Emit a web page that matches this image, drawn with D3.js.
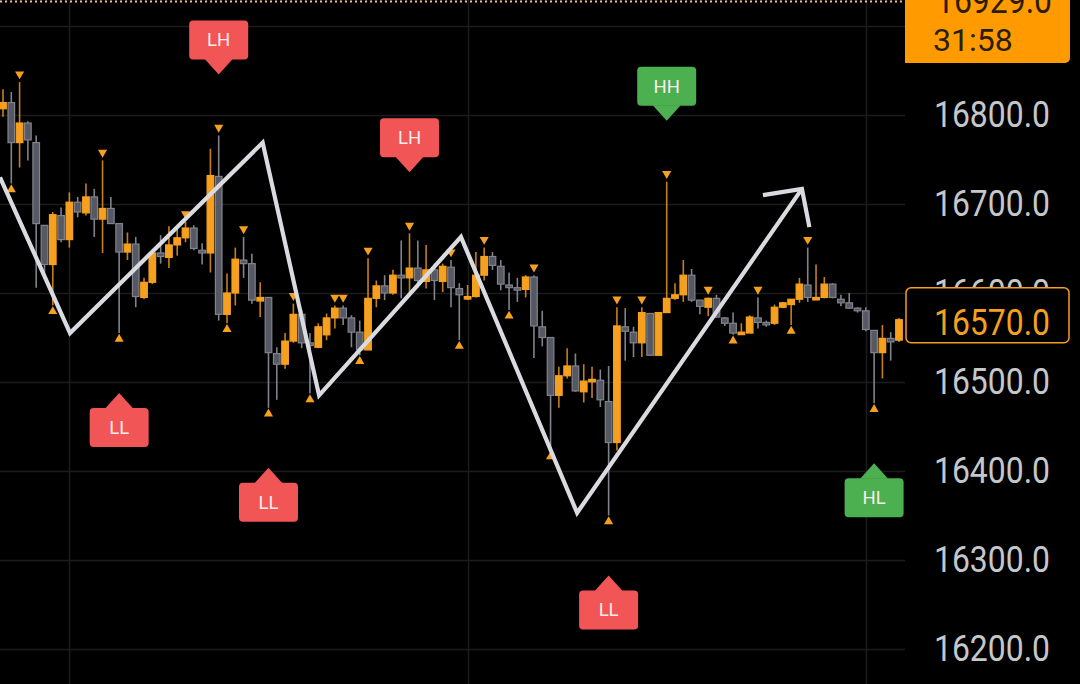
<!DOCTYPE html>
<html><head><meta charset="utf-8">
<script src="https://cdn.jsdelivr.net/npm/d3@7"></script>
<style>html,body{margin:0;padding:0;background:#000;overflow:hidden}</style>
</head><body><svg id="c" width="1080" height="684"></svg>
<script>
const open=[16807,16814,16769,16791,16769,16676,16632,16687,16660,16702,16690,16708,16683,16695,16678,16646,16655,16595,16612,16645,16640,16654,16662,16673,16648,16645,16731,16576,16600,16637,16633,16591,16595,16532,16520,16546,16576,16544,16539,16553,16572,16583,16572,16556,16536,16594,16608,16600,16620,16617,16628,16613,16626,16613,16629,16605,16594,16596,16620,16641,16630,16609,16606,16604,16618,16562,16550,16485,16507,16518,16489,16501,16502,16478,16432,16562,16556,16544,16577,16530,16578,16594,16598,16620,16592,16584,16594,16572,16566,16555,16555,16572,16567,16566,16584,16587,16593,16609,16594,16595,16610,16593,16589,16583,16580,16558,16533,16549,16547];
const high=[16829,16826,16837,16793,16777,16676,16691,16696,16713,16708,16723,16717,16749,16708,16678,16668,16663,16617,16648,16665,16675,16673,16680,16676,16656,16762,16777,16622,16651,16663,16644,16612,16595,16539,16555,16588,16581,16555,16566,16577,16586,16586,16575,16569,16639,16614,16620,16626,16659,16667,16659,16654,16633,16633,16637,16611,16609,16646,16651,16646,16637,16623,16617,16620,16620,16580,16550,16517,16538,16532,16520,16517,16514,16518,16584,16583,16562,16584,16577,16578,16725,16611,16637,16627,16592,16595,16598,16573,16578,16566,16575,16595,16569,16587,16590,16593,16617,16651,16632,16618,16611,16598,16600,16584,16584,16558,16564,16556,16572];
const low=[16798,16723,16741,16749,16606,16617,16586,16657,16651,16685,16687,16663,16645,16678,16555,16637,16584,16593,16610,16633,16628,16642,16657,16648,16632,16623,16569,16566,16586,16617,16588,16573,16471,16480,16515,16544,16538,16487,16538,16547,16560,16564,16539,16530,16536,16584,16592,16598,16594,16601,16606,16605,16592,16601,16584,16547,16592,16595,16614,16626,16603,16581,16590,16595,16527,16540,16423,16471,16504,16489,16477,16482,16472,16350,16423,16524,16528,16528,16530,16530,16578,16592,16590,16590,16576,16574,16572,16563,16553,16554,16555,16560,16562,16564,16583,16564,16589,16590,16593,16594,16594,16585,16582,16578,16557,16476,16504,16524,16545];
const close=[16814,16769,16791,16772,16678,16632,16688,16660,16702,16691,16708,16683,16695,16678,16646,16655,16596,16612,16645,16641,16654,16662,16673,16650,16645,16732,16576,16600,16638,16633,16592,16595,16533,16520,16546,16576,16544,16541,16562,16572,16583,16572,16556,16536,16594,16608,16600,16620,16617,16628,16614,16626,16614,16630,16606,16598,16596,16620,16641,16631,16610,16606,16604,16618,16563,16550,16485,16507,16518,16490,16501,16503,16480,16432,16563,16557,16544,16578,16530,16578,16594,16598,16620,16592,16585,16594,16573,16566,16555,16556,16573,16567,16565,16584,16589,16593,16610,16595,16595,16610,16595,16589,16583,16580,16559,16533,16549,16545,16570];

const pivotHighIdx=[2,12,22,26,29,35,40,41,44,49,54,58,64,74,77,80,85,91,97];
const pivotLowIdx=[1,6,14,27,32,37,43,55,61,66,73,88,95,105];

const labelIdx=[26,49,80,14,32,73,105];
const labelText=["LH","LH","HH","LL","LL","LL","HL"];
const labelSide=["high","high","high","low","low","low","low"];

const zigIdx=[-0.36,8.08,31.3,38.1,55.2,69.2,96.3];
const zigPrice=[16730,16555,16769,16485,16663,16353,16717];
const arrowIdx=[91.6,96.3,97.2];
const arrowPrice=[16710,16717,16674];

const tickValues=[16200,16300,16400,16500,16600,16700,16800];
const gridValues=[16200,16300,16400,16500,16600,16700,16800,16900];
const vGridIdx=[8,56,104];
const lastPrice=16570, markPrice=16929, countdown="31:58";

const W=1080,H=684,plotR=905;
const ORANGE="#f6a020", GRAYF="#565963", GRAYS="#80838c", RED="#f25555", GREEN="#4caf50";
const svg=d3.select("#c");
svg.append("rect").attr("width",W).attr("height",H).attr("fill","#000");

const x=d3.scaleLinear().domain([0,108]).range([3,899]);
const y=d3.scaleLinear().domain([16200,16900]).range([649,26]);

svg.append("defs").append("clipPath").attr("id","plot").append("rect").attr("x",0).attr("y",0).attr("width",plotR).attr("height",H);
const g=svg.append("g").attr("clip-path","url(#plot)");

// grid
g.selectAll("line.hg").data(gridValues).join("line").attr("x1",0).attr("x2",plotR)
 .attr("y1",d=>Math.round(y(d))+0.5).attr("y2",d=>Math.round(y(d))+0.5).attr("stroke","#1c1c1e").attr("stroke-width",1.5);
g.selectAll("line.vg").data(vGridIdx).join("line").attr("y1",0).attr("y2",H)
 .attr("x1",d=>Math.round(x(d))+0.5).attr("x2",d=>Math.round(x(d))+0.5).attr("stroke","#1c1c1e").attr("stroke-width",1.5);

const data=open.map((o,i)=>({i,o,h:high[i],l:low[i],c:close[i],up:close[i]>=o}));
const bw=6.6;
// wicks
g.selectAll("line.wick").data(data).join("line")
 .attr("x1",d=>x(d.i)).attr("x2",d=>x(d.i)).attr("y1",d=>y(d.h)).attr("y2",d=>y(d.l))
 .attr("stroke",d=>d.up?ORANGE:GRAYS).attr("stroke-opacity",d=>d.up?0.8:1).attr("stroke-width",1.6);
// bodies
g.selectAll("rect.body").data(data).join("rect")
 .attr("x",d=>x(d.i)-bw/2).attr("width",bw)
 .attr("y",d=>y(Math.max(d.o,d.c))).attr("height",d=>Math.max(2.5,Math.abs(y(d.o)-y(d.c))))
 .attr("fill",d=>d.up?ORANGE:GRAYF).attr("stroke",d=>d.up?ORANGE:GRAYS).attr("stroke-width",1.2);

// pivot markers
const tri=d3.symbol().type(d3.symbolTriangle).size(36);
g.selectAll("path.ph").data(pivotHighIdx).join("path").attr("d",tri)
 .attr("transform",i=>`translate(${x(i)},${y(high[i])-8}) rotate(180)`).attr("fill",ORANGE);
g.selectAll("path.pl").data(pivotLowIdx).join("path").attr("d",tri)
 .attr("transform",i=>`translate(${x(i)},${y(low[i])+6})`).attr("fill",ORANGE);

// zigzag
const line=d3.line().x(d=>x(d[0])).y(d=>y(d[1]));
g.append("path").attr("d",line(zigIdx.map((v,k)=>[v,zigPrice[k]])))
 .attr("fill","none").attr("stroke","#d9dbe1").attr("stroke-width",4.2).attr("stroke-linejoin","miter").attr("stroke-miterlimit",10);
g.append("path").attr("d",line(arrowIdx.map((v,k)=>[v,arrowPrice[k]])))
 .attr("fill","none").attr("stroke","#d9dbe1").attr("stroke-width",4.2).attr("stroke-linejoin","miter");

// structure labels
labelIdx.forEach((idx,k)=>{
  const cx=x(idx), isHigh=labelSide[k]==="high";
  const col=(labelText[k][0]==="H")?GREEN:RED;
  const bwid=59,bh=39,ph=15,pw=14,r=4;
  let tip,top;
  if(isHigh){tip=y(high[idx])-61; top=tip-ph-bh;} else {tip=y(low[idx])+60; top=tip+ph;}
  const gl=g.append("g");
  gl.append("rect").attr("x",cx-bwid/2).attr("y",top).attr("width",bwid).attr("height",bh).attr("rx",r).attr("fill",col);
  const by=isHigh?top+bh-0.5:top+0.5;
  gl.append("path").attr("d",`M${cx-pw},${by}L${cx},${tip}L${cx+pw},${by}Z`).attr("fill",col);
  gl.append("text").attr("x",cx).attr("y",top+bh/2).attr("dy","0.35em").attr("text-anchor","middle")
   .attr("font-family","Roboto, sans-serif").attr("font-size",18.5).attr("fill","#fbeeee").text(labelText[k]);
});

// dotted mark price line
g.append("line").attr("x1",0).attr("x2",plotR).attr("y1",Math.max(1.5,y(markPrice))).attr("y2",Math.max(1.5,y(markPrice)))
 .attr("stroke","#f1c08a").attr("stroke-width",2).attr("stroke-dasharray","2,3");

// right scale
const ax=svg.append("g").attr("transform",`translate(${plotR},0)`)
 .call(d3.axisRight(y).tickValues(tickValues).tickFormat(d3.format(".1f")).tickSize(0).tickPadding(29));
ax.select(".domain").remove();
ax.selectAll("text").attr("font-family","Roboto, sans-serif").attr("font-size",37).attr("fill","#c6c7ca")
 .attr("textLength",116).attr("lengthAdjust","spacingAndGlyphs");

// last price box
const ly=y(lastPrice);
svg.append("rect").attr("x",906).attr("y",ly-32).attr("width",163).attr("height",55).attr("rx",5)
 .attr("fill","#000").attr("stroke",ORANGE).attr("stroke-width",1.5);
svg.append("text").attr("x",934).attr("y",ly+2).attr("dy","0.35em").attr("font-family","Roboto, sans-serif")
 .attr("font-size",37).attr("fill",ORANGE).attr("textLength",116).attr("lengthAdjust","spacingAndGlyphs").text(d3.format(".1f")(lastPrice));

// mark price box
svg.append("path").attr("d","M905,-5H1070V58A5,5 0 0 1 1065,63H905Z").attr("fill","#ff9a00");
svg.append("text").attr("x",936).attr("y",y(markPrice)).attr("dy","0.35em").attr("font-family","Roboto, sans-serif")
 .attr("font-size",37).attr("fill","#2a1d0a").attr("textLength",116).attr("lengthAdjust","spacingAndGlyphs").text(d3.format(".1f")(markPrice));
svg.append("text").attr("x",933).attr("y",40).attr("dy","0.35em").attr("font-family","Roboto, sans-serif")
 .attr("font-size",32).attr("fill","#2a1d0a").text(countdown);
</script></body></html>
